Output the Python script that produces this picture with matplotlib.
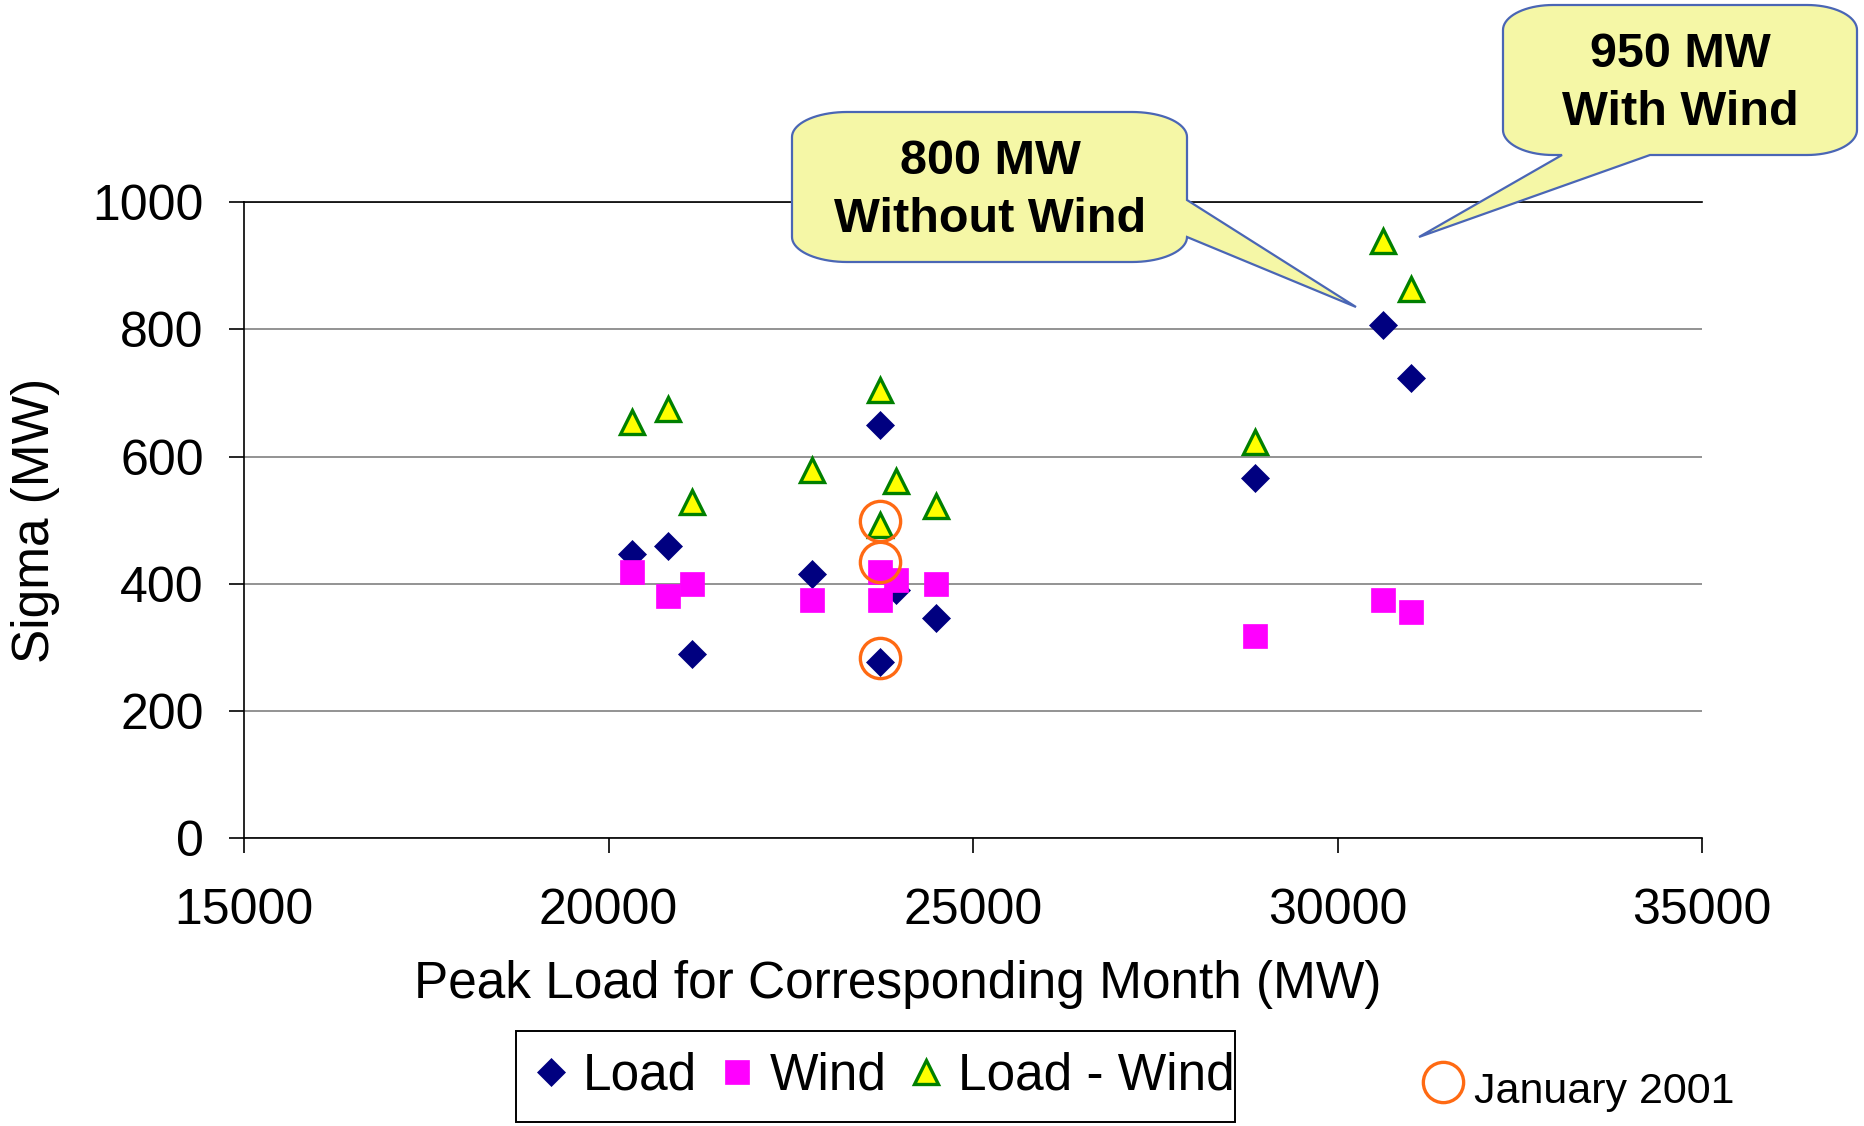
import numpy as np
import matplotlib
matplotlib.use('Agg')
from matplotlib import pyplot as plt
from matplotlib.patches import Polygon, Rectangle
from matplotlib.lines import Line2D

plt.rcParams['font.family'] = ['Liberation Sans', 'DejaVu Sans']

# peak load of each month (MW) and sigma of the three series (MW)
peak_load = [20326, 20816, 21145, 22791, 23724, 23944, 23724, 24488, 28873, 30628, 31008]
sigma_load = [447, 460, 290, 416, 649, 390, 277, 346, 567, 806, 724]
sigma_wind = [419, 381, 400, 375, 419, 406, 375, 400, 318, 375, 356]
sigma_diff = [655, 674, 529, 579, 705, 561, 493, 523, 623, 939, 863]
# January 2001 highlight rings
jan_x = [23724, 23724, 23724]
jan_y = [498, 435, 284]

x_ticks = [15000, 20000, 25000, 30000, 35000]
y_ticks = [0, 200, 400, 600, 800, 1000]

W, H = 1865, 1126
fig = plt.figure(figsize=(W/100, H/100), dpi=100)


def fx(px):
    return px/W


def fy(py):
    return 1 - py/H


ax = fig.add_axes([fx(244), fy(838.3), (1702-244)/W, (838.3-202)/H])
ax.set_xlim(15000, 35000)
ax.set_ylim(0, 1000)
ax.set_xticks(x_ticks)
ax.set_yticks(y_ticks)
ax.yaxis.grid(True, color='#808080', lw=1.2)
ax.set_axisbelow(True)
ax.spines['right'].set_visible(False)
ax.spines['top'].set_color('black')
for s in ['left', 'bottom', 'top']:
    ax.spines[s].set_linewidth(1.2)
ax.tick_params(axis='both', direction='out', length=11, width=1.2, labelsize=36)
ax.tick_params(axis='x', pad=25)
ax.tick_params(axis='y', pad=18)

ax.set_xlabel('Peak Load for Corresponding Month (MW)', fontsize=37, va='center')
ax.xaxis.set_label_coords(0.4486, -0.2305)
ax.set_ylabel('Sigma (MW)', fontsize=37, va='center')
ax.yaxis.set_label_coords(-0.1427, 0.5)

h1, = ax.plot(peak_load, sigma_load, ls='none', marker='D', ms=14.3, mfc='#000080', mec='#000080', mew=0.5, zorder=3)
h2, = ax.plot(peak_load, sigma_wind, ls='none', marker='s', ms=17, mfc='#FF00FF', mec='#FF00FF', mew=0.5, zorder=4)
h3, = ax.plot(peak_load, sigma_diff, ls='none', marker='^', ms=17, mfc='#FFFF00', mec='#008000', mew=2.4, zorder=5)
ax.plot(jan_x, jan_y, ls='none', marker='o', ms=29, mfc='none', mec='#FF6A13', mew=2.4, zorder=6)

# legend frame drawn separately so its padding matches
fig.add_artist(Rectangle((fx(516), fy(1122)), fx(1235-516), (1122-1031)/H,
                         fc='white', ec='black', lw=1.4, transform=fig.transFigure, zorder=1))
fig.legend([h1, h2, h3], ['Load', 'Wind', 'Load - Wind'], loc='center',
           bbox_to_anchor=(fx(886), fy(1076)), ncol=3, fontsize=37,
           frameon=False, handlelength=0.55, handletextpad=0.35,
           columnspacing=0.5, borderpad=0, borderaxespad=0)

fig.add_artist(Line2D([fx(1443)], [fy(1082)], ls='none', marker='o', ms=29,
                      mfc='none', mec='#FF6A13', mew=2.4, transform=fig.transFigure))
fig.text(fx(1474), fy(1092), 'January 2001', fontsize=31, ha='left', va='center')


def callout(x0, y0, x1, y1, rx, ry, side, b0, b1, tip):
    pts = []

    def arc(cx, cy, a0, a1):
        t = np.radians(np.linspace(a0, a1, 20))
        return list(zip(cx + rx*np.cos(t), cy + ry*np.sin(t)))

    pts += arc(x1-rx, y0+ry, -90, 0)
    if side == 'right':
        pts += [(x1, b0), tip, (x1, b1)]
    pts += arc(x1-rx, y1-ry, 0, 90)
    if side == 'bottom':
        pts += [(b1, y1), tip, (b0, y1)]
    pts += arc(x0+rx, y1-ry, 90, 180)
    pts += arc(x0+rx, y0+ry, 180, 270)
    pts = [(fx(a), fy(b)) for a, b in pts]
    fig.add_artist(Polygon(pts, closed=True, fc='#F5F7A6', ec='#4A66B5', lw=1.6,
                           transform=fig.transFigure, zorder=10))


callout(792, 112, 1187, 262, 55, 25, 'right', 200, 237, (1356, 307))
fig.text(fx(990), fy(190.5), '800 MW\nWithout Wind', fontsize=35, fontweight='bold',
         ha='center', va='center', multialignment='center', linespacing=1.38, zorder=11)

callout(1503, 5, 1857, 155, 50, 25, 'bottom', 1562, 1650, (1419, 237))
fig.text(fx(1680), fy(83.5), '950 MW\nWith Wind', fontsize=35, fontweight='bold',
         ha='center', va='center', multialignment='center', linespacing=1.38, zorder=11)

fig.savefig('out.png', dpi=100)
